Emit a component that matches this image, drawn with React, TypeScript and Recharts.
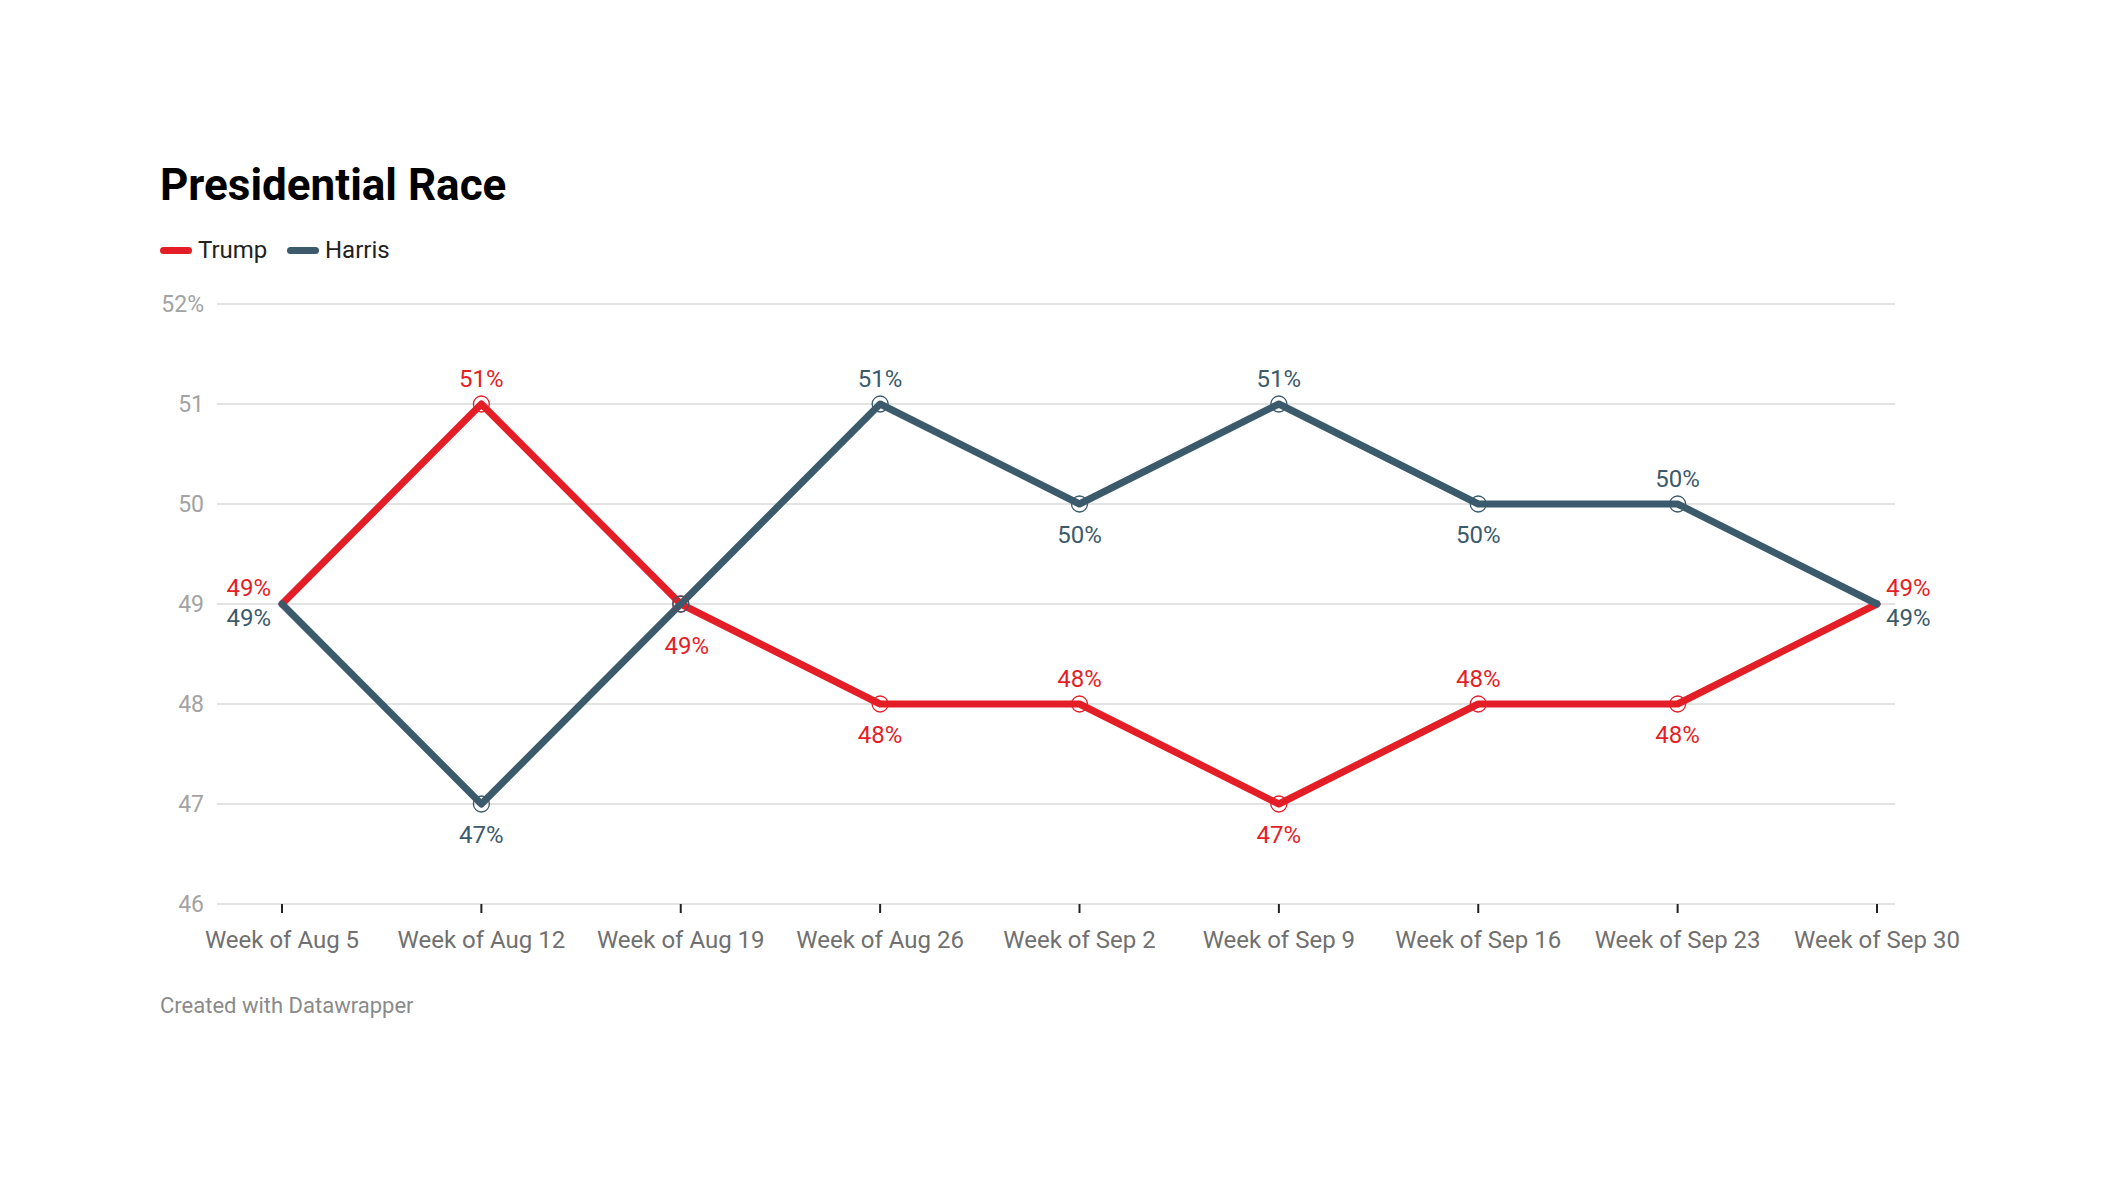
import React from 'react';
import {
  LineChart,
  Line,
  XAxis,
  YAxis,
  CartesianGrid,
  LabelList,
} from 'recharts';

const weeks = [
  'Week of Aug 5',
  'Week of Aug 12',
  'Week of Aug 19',
  'Week of Aug 26',
  'Week of Sep 2',
  'Week of Sep 9',
  'Week of Sep 16',
  'Week of Sep 23',
  'Week of Sep 30',
];
const trump = [49, 51, 49, 48, 48, 47, 48, 48, 49];
const harris = [49, 47, 49, 51, 50, 51, 50, 50, 49];
const yTicks = [46, 47, 48, 49, 50, 51, 52];

// where each value label sits relative to its point
const trumpLabelSide = ['left-up', 'top', 'bottom-far', 'bottom', 'top', 'bottom', 'top', 'bottom', 'right-up'];
const harrisLabelSide = ['left-down', 'bottom', 'none', 'top', 'bottom', 'top', 'bottom', 'top', 'right-down'];

const RED = '#e41e26';
const BLUE = '#3b5a6c';
const FONT = 'Roboto, "Noto Sans", sans-serif';

const data = weeks.map((week, i) => ({ week, trump: trump[i], harris: harris[i] }));

function makeLabel(color: string, sides: string[]) {
  return (props: any) => {
    const { x, y, index, value } = props;
    const side = sides[index];
    if (side === 'none') return null;
    let tx = x;
    let ty = y;
    let anchor: 'start' | 'middle' | 'end' = 'middle';
    if (side === 'top') ty = y - 17;
    else if (side === 'bottom') ty = y + 39;
    else if (side === 'bottom-far') {
      // nudged away from the crossing line
      tx = x + 6;
      ty = y + 50;
    } else if (side.startsWith('left')) {
      tx = x - 11;
      anchor = 'end';
      ty = side.endsWith('up') ? y - 8 : y + 22;
    } else if (side.startsWith('right')) {
      tx = x + 9;
      anchor = 'start';
      ty = side.endsWith('up') ? y - 8 : y + 22;
    }
    return (
      <text
        key={`lbl-${color}-${index}`}
        x={tx}
        y={ty}
        textAnchor={anchor}
        fill={color}
        fontSize={24}
        fontFamily={FONT}
      >
        {`${value}%`}
      </text>
    );
  };
}

function makeDot(color: string) {
  return (props: any) => {
    const { cx, cy, index } = props;
    if (index === 0 || index === weeks.length - 1) {
      return <g key={`dot-${color}-${index}`} />;
    }
    return (
      <circle
        key={`dot-${color}-${index}`}
        cx={cx}
        cy={cy}
        r={8}
        fill="none"
        stroke={color}
        strokeWidth={1.3}
      />
    );
  };
}

function LegendItem({ left, color, label }: { left: number; color: string; label: string }) {
  return (
    <div
      style={{
        position: 'absolute',
        left,
        top: 238,
        display: 'flex',
        alignItems: 'center',
        height: 24,
      }}
    >
      <div
        style={{
          width: 32,
          height: 7,
          borderRadius: 4,
          background: color,
          marginRight: 6,
        }}
      />
      <span style={{ fontSize: 24, lineHeight: '24px', color: '#222' }}>{label}</span>
    </div>
  );
}

export default function App() {
  return (
    <div
      style={{
        position: 'absolute',
        left: 0,
        top: 0,
        width: 2120,
        height: 1180,
        background: '#fff',
        fontFamily: FONT,
        overflow: 'hidden',
      }}
    >
      <div
        style={{
          position: 'absolute',
          left: 160,
          top: 163,
          fontSize: 44,
          lineHeight: '44px',
          fontWeight: 700,
          color: '#000',
        }}
      >
        Presidential Race
      </div>
      <LegendItem left={160} color={RED} label="Trump" />
      <LegendItem left={287} color={BLUE} label="Harris" />

      <div style={{ position: 'absolute', left: 0, top: 0 }}>
        <LineChart
          width={2120}
          height={1180}
          data={data}
          margin={{ top: 304, right: 225, bottom: 246, left: 157 }}
        >
          <CartesianGrid vertical={false} stroke="#e3e3e3" strokeWidth={2} />
          <XAxis
            dataKey="week"
            interval={0}
            height={30}
            padding={{ left: 65, right: 18 }}
            axisLine={false}
            tickLine={{ stroke: '#222', strokeWidth: 2 }}
            tickSize={9}
            tickMargin={18}
            tick={{ fill: '#707070', fontSize: 24, fontFamily: FONT }}
          />
          <YAxis
            width={60}
            domain={[46, 52]}
            ticks={yTicks}
            axisLine={false}
            tickLine={false}
            tickSize={0}
            tickMargin={13}
            tick={{ fill: '#a3a3a3', fontSize: 23, fontFamily: FONT }}
            tickFormatter={(v: number) => (v === 52 ? '52%' : String(v))}
          />
          <Line
            dataKey="trump"
            name="Trump"
            stroke={RED}
            strokeWidth={7}
            strokeLinecap="round"
            strokeLinejoin="round"
            dot={makeDot(RED)}
            activeDot={false}
            isAnimationActive={false}
          >
            <LabelList dataKey="trump" content={makeLabel(RED, trumpLabelSide)} />
          </Line>
          <Line
            dataKey="harris"
            name="Harris"
            stroke={BLUE}
            strokeWidth={7}
            strokeLinecap="round"
            strokeLinejoin="round"
            dot={makeDot(BLUE)}
            activeDot={false}
            isAnimationActive={false}
          >
            <LabelList dataKey="harris" content={makeLabel(BLUE, harrisLabelSide)} />
          </Line>
        </LineChart>
      </div>

      <div
        style={{
          position: 'absolute',
          left: 160,
          top: 995,
          fontSize: 22,
          lineHeight: '22px',
          color: '#8a8a8a',
        }}
      >
        Created with Datawrapper
      </div>
    </div>
  );
}
